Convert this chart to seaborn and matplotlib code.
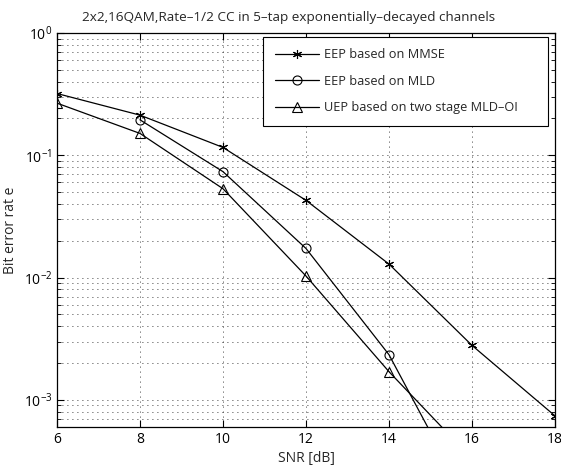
import numpy as np
import pandas as pd
import matplotlib
matplotlib.use("Agg")
import matplotlib.pyplot as plt
import seaborn as sns

snr_db = [6, 8, 10, 12, 14, 16, 18]
ber_mmse = [0.32, 0.213, 0.116, 0.0428, 0.0129, 0.00279, 0.00074]
snr_mld = [8, 10, 12, 14, 16]
ber_mld = [0.195, 0.0735, 0.0173, 0.00234, 0.000126]
snr_uep = [6, 8, 10, 12, 14, 16]
ber_uep = [0.267, 0.151, 0.0533, 0.0103, 0.0017, 0.00033]

labels = ["EEP based on MMSE", "EEP based on MLD", "UEP based on two stage MLD\u2013OI"]
series = [(snr_db, ber_mmse), (snr_mld, ber_mld), (snr_uep, ber_uep)]
marker_styles = [(6, 2, 0), "o", "^"]
marker_sizes = [6.5, 6.5, 7]

sns.set_style("ticks")
plt.rcParams["font.family"] = ["Open Sans", "DejaVu Sans"]
plt.rcParams["mathtext.fontset"] = "custom"
plt.rcParams["mathtext.rm"] = "Open Sans"

fig = plt.figure(figsize=(5.61, 4.65), dpi=100)
ax = fig.add_axes([0.1016, 0.0817, 0.8877, 0.8473])

handles = []
for (x, y), lab, mk, ms in zip(series, labels, marker_styles, marker_sizes):
    df = pd.DataFrame({"snr": x, "ber": y})
    sns.lineplot(data=df, x="snr", y="ber", color="k", marker=mk,
                 markersize=ms, markerfacecolor="none", markeredgecolor="k",
                 markeredgewidth=0.8, linewidth=0.9, ax=ax, sort=False)
    handles.append(ax.get_lines()[-1])

ax.set_yscale("log")
ax.set_xlim(6, 18)
ax.set_ylim(6.0e-4, 1)
ax.set_xticks([6, 8, 10, 12, 14, 16, 18])
ax.set_yticks([1e-3, 1e-2, 1e-1, 1e0])
ax.set_yticklabels([r"$10^{-3}$", r"$10^{-2}$", r"$10^{-1}$", r"$10^{0}$"])
ax.yaxis.set_minor_locator(matplotlib.ticker.LogLocator(base=10, subs=np.arange(2, 10)))
ax.yaxis.set_minor_formatter(matplotlib.ticker.NullFormatter())

ax.tick_params(which="both", direction="in", top=True, right=True, labelsize=10, colors="k")
ax.tick_params(which="major", length=5, width=0.8)
ax.tick_params(which="minor", length=3, width=0.6)
for s in ax.spines.values():
    s.set_color("k")
    s.set_linewidth(0.9)

grid_kw = dict(color="k", linestyle=(0, (1, 5)), linewidth=0.6)
ax.grid(which="major", axis="both", **grid_kw)
ax.grid(which="minor", axis="y", **grid_kw)

ax.set_xlabel("SNR [dB]", fontsize=10, labelpad=3)
ax.set_ylabel("Bit error rat e", fontsize=10, labelpad=4)
ax.set_title("2x2,16QAM,Rate\u20131/2 CC in 5\u2013tap exponentially\u2013decayed channels",
             fontsize=9.7, pad=9, x=0.464)

leg = ax.legend(handles, labels, loc="upper left", mode="expand",
                bbox_to_anchor=(0.4137, 0.761, 0.5723, 0.229), borderaxespad=0,
                fancybox=False, framealpha=1, edgecolor="k",
                handlelength=3.5, handletextpad=0.4, fontsize=9.2,
                borderpad=0.9, labelspacing=1.05)
leg.get_frame().set_linewidth(0.8)

fig.savefig("out.png", dpi=100)
